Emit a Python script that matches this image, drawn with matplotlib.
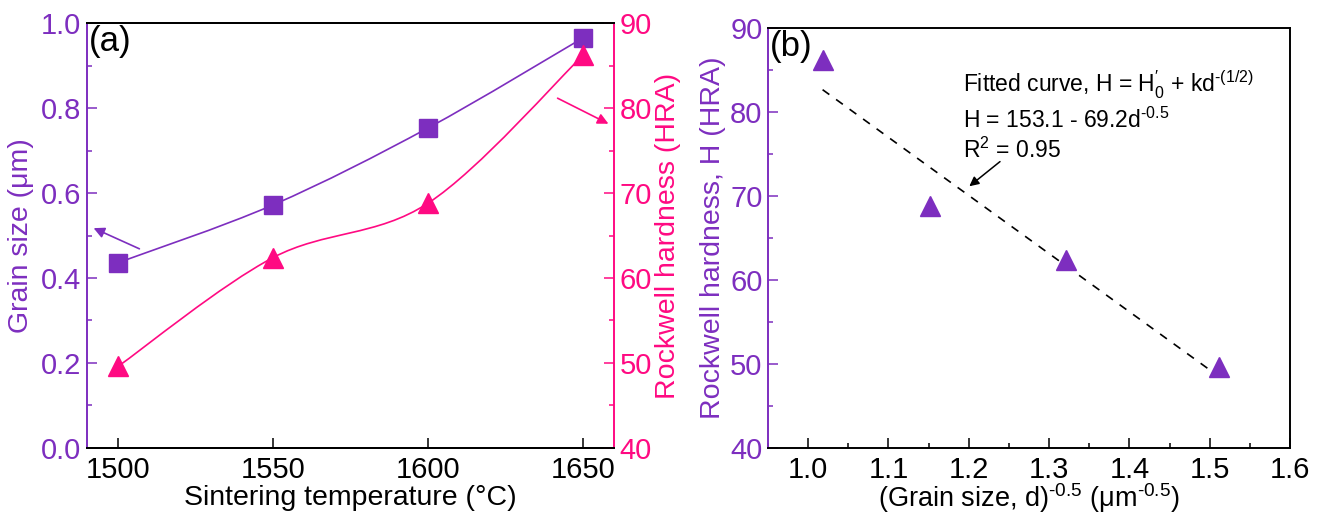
import matplotlib
matplotlib.use('Agg')
import matplotlib.pyplot as plt
from matplotlib.path import Path
from matplotlib.patches import PathPatch
from matplotlib.ticker import MultipleLocator
import numpy as np

plt.rcParams['font.family'] = ['Liberation Sans', 'DejaVu Sans']
plt.rcParams['mathtext.fontset'] = 'custom'
plt.rcParams['mathtext.rm'] = 'Liberation Sans'
plt.rcParams['mathtext.it'] = 'Liberation Sans:italic'

# panel (a) data
temps = [1500, 1550, 1600, 1650]
grain_size = [0.436, 0.572, 0.753, 0.965]
hardness = [49.6, 62.4, 68.8, 86.2]

# panel (b) data
inv_sqrt_d = [1.018, 1.152, 1.321, 1.512]
hardness_b = [86.2, 68.8, 62.4, 49.6]
fit_h0 = 153.1
fit_k = -69.2

purple = '#7D2EBF'
pink = '#FF0A82'
TICK_FS = 21
LABEL_FS = 20.5


def smooth_path(xs, ys):
    # catmull-rom through the points, drawn as cubic bezier segments
    pts = np.column_stack([xs, ys]).astype(float)
    ext = np.vstack([pts[0], pts, pts[-1]])
    verts = [pts[0]]
    codes = [Path.MOVETO]
    for i in range(1, len(ext) - 2):
        p0, p1, p2, p3 = ext[i - 1], ext[i], ext[i + 1], ext[i + 2]
        verts += [p1 + (p2 - p0) / 6, p2 - (p3 - p1) / 6, p2]
        codes += [Path.CURVE4] * 3
    return Path(verts, codes)


fig = plt.figure(figsize=(13.25, 5.16), dpi=100)
ax1 = fig.add_axes([0.0657, 0.1318, 0.3977, 0.8236])
ax2 = ax1.twinx()
axb = fig.add_axes([0.5796, 0.1318, 0.394, 0.814])

# ---- panel (a)
ax1.add_patch(PathPatch(smooth_path(temps, grain_size), fill=False,
                        edgecolor=purple, lw=1.2, zorder=2))
ax1.plot(temps, grain_size, 's', color=purple, ms=12.5, zorder=3)
ax2.add_patch(PathPatch(smooth_path(temps, hardness), fill=False,
                        edgecolor=pink, lw=1.2, zorder=2))
ax2.plot(temps, hardness, '^', color=pink, ms=14, zorder=3)

ax1.set_xlim(1490, 1660)
ax1.set_ylim(0, 1.0)
ax2.set_ylim(40, 90)
ax1.xaxis.set_major_locator(MultipleLocator(50))
ax1.yaxis.set_major_locator(MultipleLocator(0.2))
ax1.yaxis.set_minor_locator(MultipleLocator(0.1))
ax2.yaxis.set_major_locator(MultipleLocator(10))
ax2.yaxis.set_minor_locator(MultipleLocator(5))
ax1.yaxis.set_major_formatter(matplotlib.ticker.FormatStrFormatter('%.1f'))

ax1.tick_params(axis='x', direction='in', length=7, width=1.1,
                labelsize=TICK_FS, pad=6, top=False)
ax1.tick_params(axis='y', which='both', direction='in', colors=purple,
                labelsize=TICK_FS, width=1.1, pad=4, right=False)
ax1.tick_params(axis='y', which='major', length=7)
ax1.tick_params(axis='y', which='minor', length=3.5)
ax2.tick_params(axis='y', which='both', direction='in', colors=pink,
                labelsize=TICK_FS, width=1.1, pad=4)
ax2.tick_params(axis='y', which='major', length=7)
ax2.tick_params(axis='y', which='minor', length=3.5)

for sp in ax1.spines.values():
    sp.set_linewidth(1.4)
for sp in ax2.spines.values():
    sp.set_linewidth(1.4)
ax1.spines['left'].set_color(purple)
ax2.spines['left'].set_visible(False)
ax2.spines['right'].set_color(pink)
ax1.spines['right'].set_visible(False)

ax1.set_xlabel('Sintering temperature (°C)', fontsize=LABEL_FS)
ax1.xaxis.set_label_coords(0.5, -0.087)
ax1.set_ylabel('Grain size (μm)', fontsize=LABEL_FS, color=purple)
ax1.yaxis.set_label_coords(-0.100, 0.5)
ax2.set_ylabel('Rockwell hardness (HRA)', fontsize=LABEL_FS, color=pink)
ax2.yaxis.set_label_coords(1.078, 0.5)

ax1.text(0.004, 0.995, '(a)', transform=ax1.transAxes, fontsize=25,
         va='top', ha='left')

ax1.annotate('', xy=(1491.3, 0.52), xytext=(1507.7, 0.466),
             arrowprops=dict(arrowstyle='-|>', color=purple, lw=1.2,
                             mutation_scale=16))
ax2.annotate('', xy=(1659, 78.0), xytext=(1641, 81.3),
             arrowprops=dict(arrowstyle='-|>', color=pink, lw=1.2,
                             mutation_scale=16))

# ---- panel (b)
xfit = np.array([min(inv_sqrt_d), max(inv_sqrt_d)])
axb.plot(xfit, fit_h0 + fit_k * xfit, '--', color='black', lw=1.2,
         dashes=(5, 5), zorder=2)
axb.plot(inv_sqrt_d, hardness_b, '^', color=purple, ms=14, zorder=3)

axb.set_xlim(0.95, 1.6)
axb.set_ylim(40, 90)
axb.xaxis.set_major_locator(MultipleLocator(0.1))
axb.xaxis.set_minor_locator(MultipleLocator(0.05))
axb.yaxis.set_major_locator(MultipleLocator(10))
axb.yaxis.set_minor_locator(MultipleLocator(5))

axb.tick_params(axis='x', which='both', direction='in', width=1.1,
                labelsize=TICK_FS, pad=6, top=False)
axb.tick_params(axis='x', which='major', length=7)
axb.tick_params(axis='x', which='minor', length=3.5)
axb.tick_params(axis='y', which='both', direction='in', colors=purple,
                labelsize=TICK_FS, width=1.1, pad=4, right=False)
axb.tick_params(axis='y', which='major', length=7)
axb.tick_params(axis='y', which='minor', length=3.5)
for sp in axb.spines.values():
    sp.set_linewidth(1.4)
axb.spines['left'].set_color(purple)

axb.set_xlabel(r'(Grain size, d)$^{\text{-}0.5}$ (μm$^{\text{-}0.5}$)',
               fontsize=19.5)
axb.xaxis.set_label_coords(0.5, -0.080)
axb.set_ylabel('Rockwell hardness, H (HRA)', fontsize=LABEL_FS, color=purple)
axb.yaxis.set_label_coords(-0.080, 0.5)

axb.text(0.004, 0.995, '(b)', transform=axb.transAxes, fontsize=25,
         va='top', ha='left')

axb.text(1.193, 82.26,
         r"Fitted curve, H = H$_0^{\prime}$ + kd$^{\text{-}(1/2)}$",
         fontsize=16.5, va='baseline')
axb.text(1.193, 78.1, r'H = 153.1 - 69.2d$^{\text{-}0.5}$', fontsize=16.5,
         va='baseline')
axb.text(1.193, 74.5, 'R$^2$ = 0.95', fontsize=16.5, va='baseline')
axb.annotate('', xy=(1.198, 70.95), xytext=(1.2416, 74.3),
             arrowprops=dict(arrowstyle='-|>', color='black', lw=1.1,
                             mutation_scale=14))

fig.savefig('out.png', dpi=100)
